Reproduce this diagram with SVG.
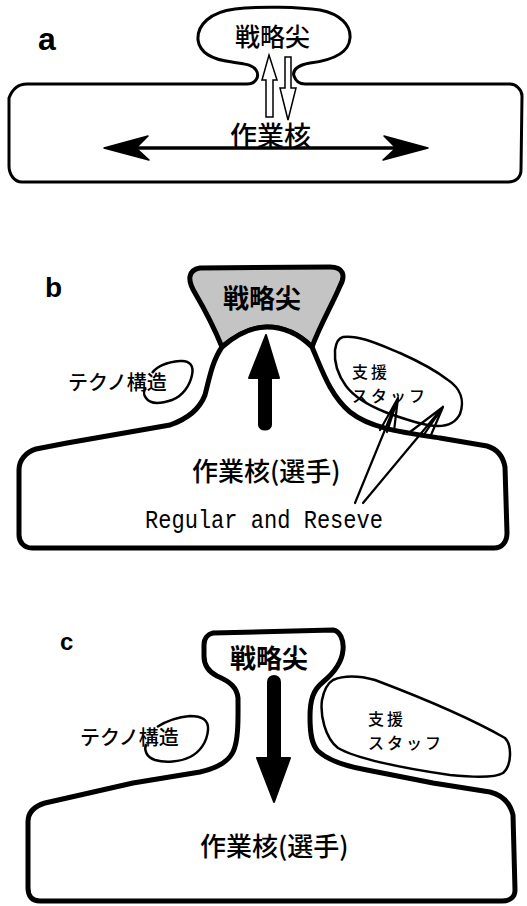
<svg xmlns="http://www.w3.org/2000/svg" width="527" height="906" viewBox="0 0 527 906">
<style>
.lbl{font-family:"Liberation Sans",Arial,sans-serif;font-weight:bold;fill:#000}
.jp{font-family:"Noto Sans CJK JP","Noto Sans",sans-serif;font-weight:500;fill:#000}
.jpb{font-family:"Noto Sans CJK JP","Noto Sans",sans-serif;font-weight:700;fill:#000}
.jps{font-family:"Noto Sans CJK JP","Noto Sans",sans-serif;font-weight:500;fill:#000;font-size:16px;letter-spacing:3px}
.en{font-family:"Liberation Mono","DejaVu Sans Mono",monospace;fill:#000}
.thin{fill:none;stroke:#000;stroke-width:3;stroke-linejoin:round}
.body{fill:#fff;stroke:#000;stroke-width:5;stroke-linejoin:round}
.blob{fill:none;stroke:#000;stroke-width:2.5;stroke-linejoin:round}
.hollow{fill:#fff;stroke:#000;stroke-width:1.5;stroke-linejoin:miter}
.solid{fill:#000;stroke:#000;stroke-width:2;stroke-linejoin:round}
.ln{fill:none;stroke:#000;stroke-width:2.2;stroke-linecap:round}
</style>
<rect width="527" height="906" fill="#fff"/>

<!-- Panel a -->
<g id="panel-a">
  <text class="lbl" x="38" y="50" font-size="32">a</text>
  <g id="a-organization">
    <path class="thin" d="M27,84 L247,84 C256,84 260,76 256,70 C252,64 244,64 232,62 C215,60 200,55 198,40 C197,25 210,12 235,9 C260,6 300,7 320,10 C340,14 351,25 350,38 C349,52 335,60 310,63 C298,65 292,70 294,76 C296,82 300,84 305,84 L510,84 C516,84 522,90 522,96 L521,170 C521,177 516,182 508,182 L22,182 C14,182 9,174 9,166 L9,98 C12,90 18,84 27,84 Z"/>
  </g>
  <g id="a-apex">
    <text class="jp" x="235" y="46" font-size="25">戦略尖</text>
  </g>
  <g id="a-core">
    <text class="jp" x="230" y="146" font-size="27">作業核</text>
  </g>
</g>

<!-- Panel b -->
<g id="panel-b">
  <text class="lbl" x="45" y="297" font-size="28">b</text>
  <g id="b-apex">
    <path d="M222,347 C215,330 205,310 195,293 C187,280 188,270 200,268 L330,267 C343,267 346,275 340,286 C332,305 320,325 312,347 C298,333 282,327 267,327 C252,327 238,333 222,347 Z" fill="#c4c4c4" stroke="#000" stroke-width="5" stroke-linejoin="round"/>
    <text class="jpb" x="223" y="308" font-size="26">戦略尖</text>
  </g>
  <g id="b-core">
    <path class="body" d="M222,347 C238,333 252,327 267,327 C282,327 298,333 312,347 C322,370 330,395 350,412 C370,428 400,432 440,438 L487,446 C497,449 503,456 505,467 L507,533 C507,542 502,548 494,548 L32,548 C24,548 19,542 19,535 L19,470 C19,460 26,452 36,449 L67,443 L170,425 C190,418 200,408 205,395 C210,375 213,360 222,347 Z"/>
    <text class="jp" x="192" y="481" font-size="26">作業核(選手)</text>
    <text class="en" x="145" y="528" font-size="25" textLength="238" lengthAdjust="spacingAndGlyphs">Regular and Reseve</text>
  </g>
  <g id="b-techno">
    <path class="blob" d="M152,373 C158,365 168,362 180,361 C190,360 194,366 192,375 C190,385 183,396 172,400 C160,404 150,404 146,398 C143,394 144,390 146,388"/>
    <text class="jp" x="68" y="390" font-size="20">テクノ構造</text>
  </g>
  <g id="b-staff">
    <path class="blob" d="M343,337 C360,335 380,345 400,353 C420,362 435,370 448,380 C460,388 465,400 460,414 C456,422 448,426 438,426 C430,426 422,424 415,422 C405,419 395,416 385,412 C370,406 355,398 346,386 C338,375 334,362 335,350 C336,343 338,338 343,337 Z"/>
    <text class="jps" x="352" y="378">支援</text>
    <text class="jps" x="352" y="402">スタッフ</text>
  </g>
</g>

<!-- Panel c -->
<g id="panel-c">
  <text class="lbl" x="60" y="650" font-size="24">c</text>
  <g id="c-core">
    <path class="body" d="M213,633 L333,630 C340,631 344,640 343,650 C342,662 335,672 323,682 C313,690 310,700 310,717 C310,735 312,745 318,751 C330,762 350,767 367,770 L433,783 L490,792 C502,795 510,803 513,815 L515,890 C515,897 510,901 502,901 L40,901 C32,901 28,896 28,888 L28,822 C28,812 35,806 45,803 L133,783 L200,772 C218,768 228,762 233,752 C239,740 238,715 238,698 C237,688 231,682 217,676 C209,672 204,666 204,656 L204,645 C204,638 208,634 213,633 Z"/>
    <text class="jpb" x="230" y="668" font-size="26">戦略尖</text>
    <text class="jp" x="200" y="856" font-size="26">作業核(選手)</text>
  </g>
  <g id="c-techno">
    <path class="blob" d="M157,727 C168,720 178,717 190,716 C202,716 209,720 208,730 C207,742 200,752 190,757 C180,762 165,763 155,760 C146,757 144,750 146,744" stroke-width="3"/>
    <text class="jp" x="80" y="745" font-size="20">テクノ構造</text>
  </g>
  <g id="c-staff">
    <path class="blob" stroke-width="4" d="M333,680 C345,675 360,676 375,680 C420,697 470,718 505,738 C512,745 512,765 503,773 C495,778 470,777 450,775 C400,768 355,758 338,748 C325,738 320,715 322,700 C324,690 328,683 333,680 Z"/>
    <text class="jps" x="368" y="725">支援</text>
    <text class="jps" x="368" y="749">スタッフ</text>
  </g>
</g>

<!-- Connectors -->
<g id="connectors">
  <!-- a: hollow up / down arrows -->
  <polygon class="hollow" points="269,55 277,80 273,80 273,117 266,117 266,80 262,80"/>
  <polygon class="hollow" points="285,57 291,57 291,88 296,88 288,120 280,88 285,88"/>
  <!-- a: double-headed horizontal arrow -->
  <line x1="120" y1="148" x2="412" y2="148" stroke="#000" stroke-width="3.5"/>
  <polygon points="104,148 148,136 136,148 149,160" fill="#000" stroke="#000" stroke-width="1.5" stroke-linejoin="round"/>
  <polygon points="428,148 384,136 396,148 383,160" fill="#000" stroke="#000" stroke-width="1.5" stroke-linejoin="round"/>
  <!-- b: thick up arrow -->
  <path class="solid" d="M259,378 L249,378 L266,335 L279,378 L271,378 L271,425 C271,431 259,431 259,425 Z"/>
  <!-- b: pointer lines from Regular and Reseve -->
  <path class="ln" d="M355,503 L398,398 M398,398 L380,430 M398,398 L387,432 M398,398 L394,431"/>
  <path class="ln" d="M363,503 L443,407 M443,407 L410,432 M443,407 L423,436 M443,407 L431,435"/>
  <!-- c: thick down arrow -->
  <path class="solid" d="M268,682 C268,674 280,674 280,682 L280,758 L290,758 L274,802 L257,758 L268,758 Z"/>
</g>
</svg>
